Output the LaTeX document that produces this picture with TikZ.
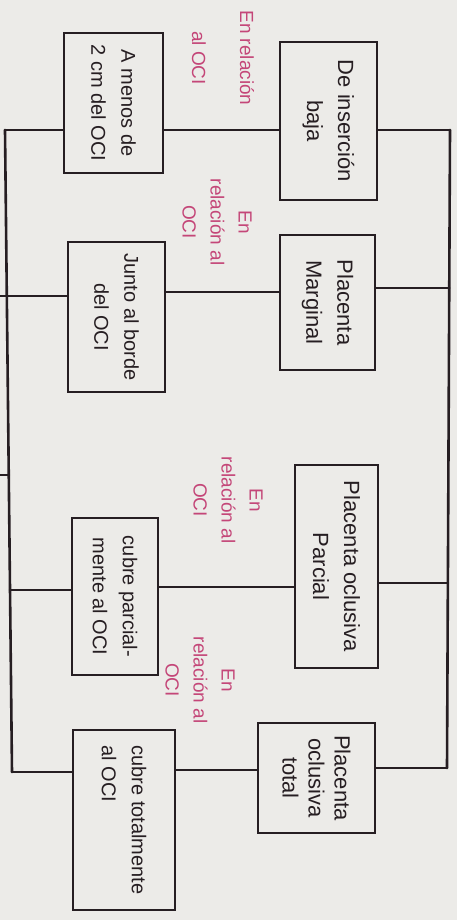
\documentclass[tikz,border=0pt]{standalone}
\usepackage{fontspec}
\setmainfont{Liberation Sans}
\definecolor{paper}{RGB}{236,235,232}
\definecolor{ink}{RGB}{38,30,34}
\definecolor{pinkink}{RGB}{196,70,120}
\begin{document}
\begin{tikzpicture}[x=1pt,y=-1pt,
  box/.style={draw=ink, line width=2.6pt, rotate=-90, align=center, text=ink,
    font=\fontsize{20}{30}\selectfont, inner sep=2pt},
  rbox/.style={box, font=\fontsize{22}{31}\selectfont},
  lbl/.style={rotate=-90, align=center, text=pinkink,
    font=\fontsize{19}{28}\selectfont, inner sep=1pt},
  wire/.style={draw=ink, line width=2.6pt, line cap=round}]
\fill[paper] (0,0) rectangle (457,920);
\useasboundingbox (0,0) rectangle (457,920);

% right column boxes
\node[rbox, minimum width=158pt, minimum height=97pt] (b1) at (328.5,121) {De inserción\\baja};
\node[rbox, minimum width=135pt, minimum height=95pt] (b2) at (327.5,302.5) {Placenta\\Marginal};
\node[rbox, minimum width=203pt, minimum height=83pt] (b3) at (336.5,566.5) {Placenta oclusiva\\Parcial};
\node[rbox, minimum width=110pt, minimum height=117pt, font=\fontsize{22}{26}\selectfont] (b4) at (316.5,778) {Placenta\\oclusiva\\total};

% left column boxes
\node[box, minimum width=140pt, minimum height=99pt] (a1) at (113.5,103) {A menos de\\2 cm del OCI};
\node[box, minimum width=150pt, minimum height=97pt] (a2) at (116.5,317) {Junto al borde\\del OCI};
\node[box, minimum width=157pt, minimum height=86pt] (a3) at (115,596.5) {cubre parcial-\\mente al OCI};
\node[box, minimum width=180pt, minimum height=102pt, align=left] (a4) at (124,820) {cubre totalmente\\al OCI};

% pink labels
\node[lbl, font=\fontsize{19}{48}\selectfont] (t1) at (223,58) {En relación\\al OCI};
\node[lbl] (t2) at (217,222) {En\\relación al\\OCI};
\node[lbl] (t3) at (228,500) {En\\relación al\\OCI};
\node[lbl] (t4) at (200,680) {En\\relación al\\OCI};

% spine coordinates
\coordinate (l1) at (5,130);
\coordinate (l4) at (12,772);
\coordinate (l3) at (10,590);
\coordinate (ls) at (8.8,475);
\coordinate (e2) at (0,296);
\coordinate (e3) at (0,475);
\coordinate (r1) at (450,130);
\coordinate (r2) at (449.3,288);
\coordinate (r3) at (447.9,583);
\coordinate (r4) at (447,768);
\coordinate (m2) at (0,292);
\coordinate (m3) at (0,587);
\coordinate (m4) at (0,770);

% spines
\draw[wire] (l1) -- (l4);
\draw[wire] (r1) -- (r4);
\draw[wire] (e3) -- (ls);

% row 1
\draw[wire] (l1) -- (a1.south |- l1);
\draw[wire] (a1.north |- l1) -- (b1.south |- l1);
\draw[wire] (b1.north |- r1) -- (r1);
% row 2
\draw[wire] (e2) -- (a2.south |- e2);
\draw[wire] (a2.north |- m2) -- (b2.south |- m2);
\draw[wire] (b2.north |- r2) -- (r2);
% row 3
\draw[wire] (l3) -- (a3.south |- l3);
\draw[wire] (a3.north |- m3) -- (b3.south |- m3);
\draw[wire] (b3.north |- r3) -- (r3);
% row 4
\draw[wire] (l4) -- (a4.south |- l4);
\draw[wire] (a4.north |- m4) -- (b4.south |- m4);
\draw[wire] (b4.north |- r4) -- (r4);
\end{tikzpicture}
\end{document}
